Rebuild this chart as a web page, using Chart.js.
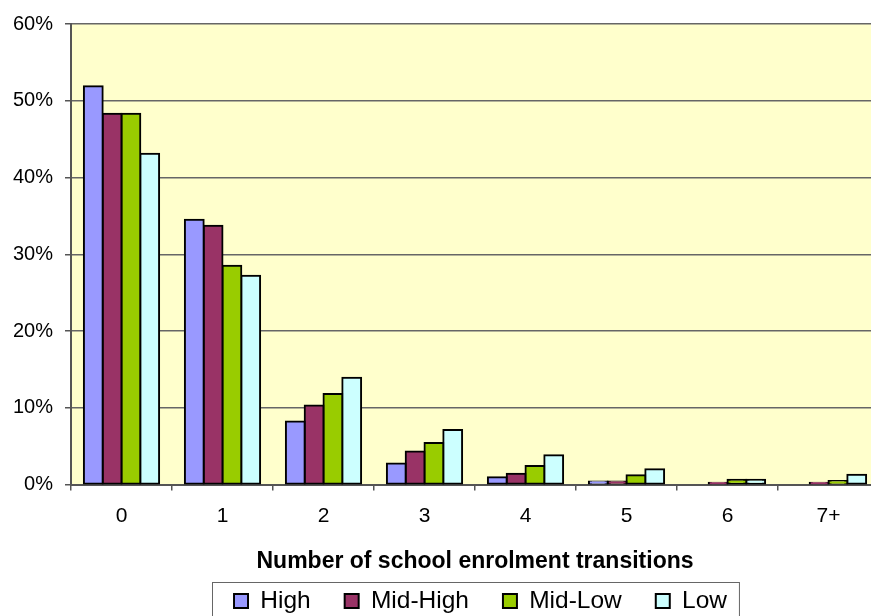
<!DOCTYPE html>
<html>
<head>
<meta charset="utf-8">
<title>School enrolment transitions</title>
<script src="https://cdn.jsdelivr.net/npm/chart.js@4/dist/chart.umd.min.js"></script>
<style>
  html, body { margin: 0; padding: 0; background: #fff; overflow: hidden; }
  #wrap { position: absolute; left: 0; top: 0; width: 880px; height: 640px; }
</style>
</head>
<body>
<div id="wrap"><canvas id="chart" width="880" height="640"></canvas></div>
<script>
const categories = ["0", "1", "2", "3", "4", "5", "6", "7+"];
const seriesNames = ["High", "Mid-High", "Mid-Low", "Low"];

// share of children (%) by number of transitions
const high = [51.9, 34.5, 8.2, 2.75, 0.93, 0.4, 0, 0];
const midHigh = [48.3, 33.7, 10.3, 4.3, 1.4, 0.4, 0.22, 0.22];
const midLow = [48.3, 28.5, 11.8, 5.4, 2.4, 1.2, 0.61, 0.44];
const low = [43.1, 27.2, 13.9, 7.1, 3.8, 2.0, 0.61, 1.26];

const yTicks = [0, 10, 20, 30, 40, 50, 60];

const colors = ["#9999FF", "#993366", "#99CC00", "#CCFFFF"];
const font = "'Liberation Sans', Arial, sans-serif";

const $ = id => document.getElementById(id);

function makeDataset(label, data, color) {
  return {
    label,
    data,
    backgroundColor: color,
    borderColor: "#000",
    borderWidth: 2,
    borderSkipped: false,
    // outline straddles the bar edge; empty bars stay invisible
    inflateAmount: ctx => (ctx.raw > 0 ? 1 : 0),
    categoryPercentage: 0.745,
    barPercentage: 1
  };
}

// pale yellow plot area behind the bars
const plotBg = {
  id: "plotBg",
  beforeDraw(chart) {
    const { ctx, chartArea: a } = chart;
    ctx.save();
    ctx.fillStyle = "#FFFFCC";
    ctx.fillRect(a.left, a.top, a.right - a.left, a.bottom - a.top);
    ctx.restore();
  }
};

// legend row sits a little right of centre and gets a framed box
const legendBox = {
  id: "legendBox",
  afterLayout(chart) {
    const lg = chart.legend;
    lg.left += 41;
    lg.right += 41;
    lg.top += 3.75;
    lg.bottom += 3.75;
  },
  afterDraw(chart) {
    const lg = chart.legend;
    const pad = lg.options.labels.padding;
    const w = lg.lineWidths[0];
    const x0 = (lg.left + pad + lg.right - w) / 2;
    const x1 = x0 + w - pad;
    const ctx = chart.ctx;
    ctx.save();
    ctx.strokeStyle = "#666";
    ctx.lineWidth = 1;
    ctx.strokeRect(Math.round(x0 - 22) + 0.5, Math.round(lg.top + 27) + 0.5, x1 - x0 + 34, 120);
    ctx.restore();
  }
};

new Chart($("chart"), {
  type: "bar",
  data: {
    labels: categories,
    datasets: [
      makeDataset(seriesNames[0], high, colors[0]),
      makeDataset(seriesNames[1], midHigh, colors[1]),
      makeDataset(seriesNames[2], midLow, colors[2]),
      makeDataset(seriesNames[3], low, colors[3])
    ]
  },
  options: {
    responsive: false,
    animation: false,
    layout: { padding: { top: 24, left: 0, right: 1, bottom: 29 } },
    plugins: {
      tooltip: { enabled: false },
      legend: {
        position: "bottom",
        maxHeight: 60,
        labels: {
          color: "#000",
          font: { family: font, size: 24.5 },
          boxWidth: 14,
          boxHeight: 14,
          padding: 34
        }
      }
    },
    scales: {
      x: {
        afterFit: s => { s.height = 66.5; },
        grid: {
          drawOnChartArea: false,
          tickLength: 6,
          tickColor: "#555",
          lineWidth: 1.5
        },
        border: { color: "#555", width: 2 },
        ticks: {
          color: "#000",
          padding: 13,
          font: { family: font, size: 21 }
        },
        title: {
          display: true,
          text: "Number of school enrolment transitions",
          color: "#000",
          font: { family: font, size: 23, weight: "bold" },
          padding: { top: 0, bottom: -24 }
        }
      },
      y: {
        min: yTicks[0],
        max: yTicks[yTicks.length - 1],
        afterFit: s => { s.width = 71; },
        afterBuildTicks: s => { s.ticks = yTicks.map(v => ({ value: v })); },
        grid: {
          color: "#666",
          lineWidth: 1.5,
          tickLength: 6,
          tickColor: "#555"
        },
        border: { color: "#555", width: 2 },
        ticks: {
          color: "#000",
          padding: 12,
          font: { family: font, size: 20 },
          callback: v => v + "%"
        }
      }
    }
  },
  plugins: [plotBg, legendBox]
});
</script>
</body>
</html>
